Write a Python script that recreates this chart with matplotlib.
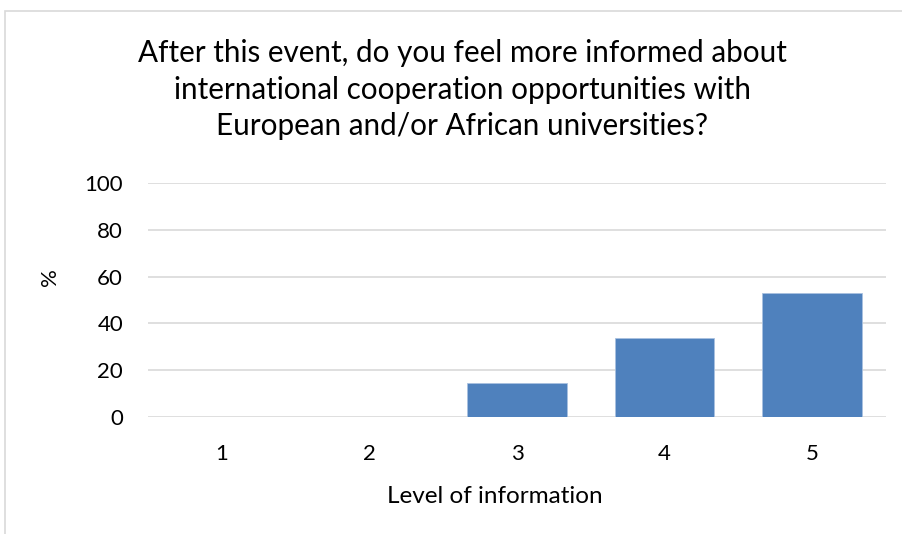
import matplotlib.pyplot as plt
from matplotlib.patches import Rectangle

# Data
levels = ["1", "2", "3", "4", "5"]
percent = [0, 0, 14.6, 33.6, 52.8]
yticks = [0, 20, 40, 60, 80, 100]

title = ("After this event, do you feel more informed about\n"
         "international cooperation opportunities with\n"
         "European and/or African universities?")

plt.rcParams['font.family'] = ['Lato', 'DejaVu Sans']

fig = plt.figure(figsize=(9.03, 5.34), dpi=100)
ax = fig.add_axes([0.164, 0.2197, 0.817, 0.437])

# light chart border (top and left visible)
fig.patches.append(Rectangle((5 / 903, -0.1), 1.2, 1 - 11 / 534 + 0.1,
                             transform=fig.transFigure, fill=False,
                             edgecolor="#d9d9d9", linewidth=1.2))

x = range(len(levels))
ax.bar(x, percent, width=0.676, color="#4f81bd", edgecolor="#a9c1e0", linewidth=0.6, zorder=3)

ax.set_xlim(-0.5, len(levels) - 0.5)
ax.set_ylim(0, 100)
ax.set_yticks(yticks)
ax.set_xticks(list(x))
ax.set_xticklabels(levels)
ax.tick_params(axis="both", length=0, labelsize=16, colors="black")
ax.tick_params(axis="y", pad=18)
ax.tick_params(axis="x", pad=20)
ax.yaxis.grid(True, color="#d9d9d9", linewidth=1.2, zorder=0)
ax.set_axisbelow(True)
for s in ax.spines.values():
    s.set_visible(False)

ax.set_ylabel("%", fontsize=16)
ax.yaxis.set_label_coords(-0.12, 0.6)
ax.set_xlabel("Level of information", fontsize=17.5)
ax.xaxis.set_label_coords((495 - 148) / 738, -0.295)

fig.text(0.512, 0.927, title, ha="center", va="top", fontsize=21.3, linespacing=1.38)

fig.savefig("out.png", dpi=100)
